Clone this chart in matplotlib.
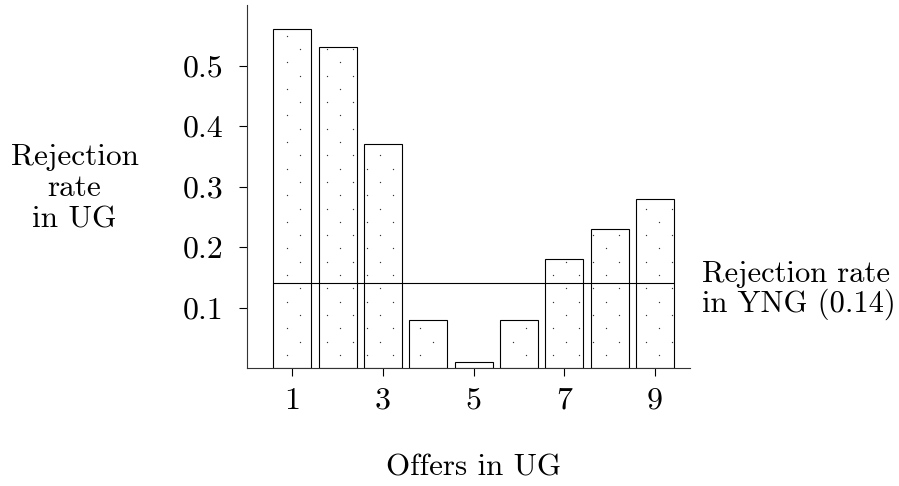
import matplotlib
matplotlib.use('Agg')
import numpy as np
import matplotlib.pyplot as plt

offers = [1, 2, 3, 4, 5, 6, 7, 8, 9]
ug_rejection = [0.56, 0.53, 0.37, 0.08, 0.01, 0.08, 0.18, 0.23, 0.28]
yng_rejection = 0.14
xtick_vals = [1, 3, 5, 7, 9]
ytick_vals = [0.1, 0.2, 0.3, 0.4, 0.5]
ytick_labels = ['0.1', '0.2', '0.3', '0.4', '0.5']

plt.rcParams['font.family'] = ['cmr10', 'DejaVu Serif']


def dot_fill(ax, xs, heights, width, step_px=13.3, x0_px=286.7, y0_px=35.7):
    # sparse staggered dots inside the bars, like the old TeX pattern fill
    fig = ax.figure
    fig.canvas.draw()
    to_px = ax.transData
    to_data = ax.transData.inverted()
    H = fig.bbox.height
    pts = []
    for x, h in zip(xs, heights):
        (l, b) = to_px.transform((x - width / 2, 0))
        (r, t) = to_px.transform((x + width / 2, h))
        # picture coords: y down from top
        top_img, bot_img = H - t, H - b
        c_lo = int(np.ceil((l + 1.5 - x0_px) / step_px))
        c_hi = int(np.floor((r - 1.5 - x0_px) / step_px))
        r_lo = int(np.ceil((top_img + 1.5 - y0_px) / step_px))
        r_hi = int(np.floor((bot_img - 1.5 - y0_px) / step_px))
        for ci in range(c_lo, c_hi + 1):
            for ri in range(r_lo, r_hi + 1):
                if (ci + ri) % 2 == 0:
                    px = x0_px + ci * step_px
                    py = H - (y0_px + ri * step_px)
                    pts.append(to_data.transform((px, py)))
    pts = np.array(pts)
    ax.scatter(pts[:, 0], pts[:, 1], s=0.9, c='#333333', linewidths=0,
               zorder=3)


def main():
    fig = plt.figure(figsize=(8.99, 4.86), dpi=100)
    ax = fig.add_axes([0.2748, 0.2428, 0.4927, 0.7469])

    width = 0.84
    ax.bar(offers, ug_rejection, width=width, color='white', edgecolor='black',
           linewidth=0.8, zorder=2)
    ax.hlines(yng_rejection, offers[0] - width / 2, offers[-1] + width / 2,
              color='black', linewidth=0.8, zorder=4)

    ax.set_xlim(0, 9.77)
    ax.set_ylim(0, 0.6)
    for s in ['top', 'right']:
        ax.spines[s].set_visible(False)
    for s in ['left', 'bottom']:
        ax.spines[s].set_linewidth(0.8)
        ax.spines[s].set_color('#333333')

    ax.set_xticks(xtick_vals)
    ax.set_xticklabels([str(v) for v in xtick_vals])
    ax.set_yticks(ytick_vals)
    ax.set_yticklabels(ytick_labels)
    ax.tick_params(axis='both', direction='out', length=5.8, width=0.8,
                   labelsize=23)
    ax.tick_params(axis='y', pad=11)
    ax.tick_params(axis='x', pad=8)

    dot_fill(ax, offers, ug_rejection, width)

    fig.text(0.527, 0.037, 'Offers in UG', ha='center', va='center',
             fontsize=22.3)
    fig.text(0.083, 0.613, 'Rejection\nrate\nin UG', ha='center', va='center',
             fontsize=22.5, linespacing=1.15)
    fig.text(0.781, 0.403, 'Rejection rate\nin YNG (0.14)', ha='left',
             va='center', fontsize=22, linespacing=1.05)

    fig.savefig('out.png', dpi=100)


if __name__ == '__main__':
    main()
